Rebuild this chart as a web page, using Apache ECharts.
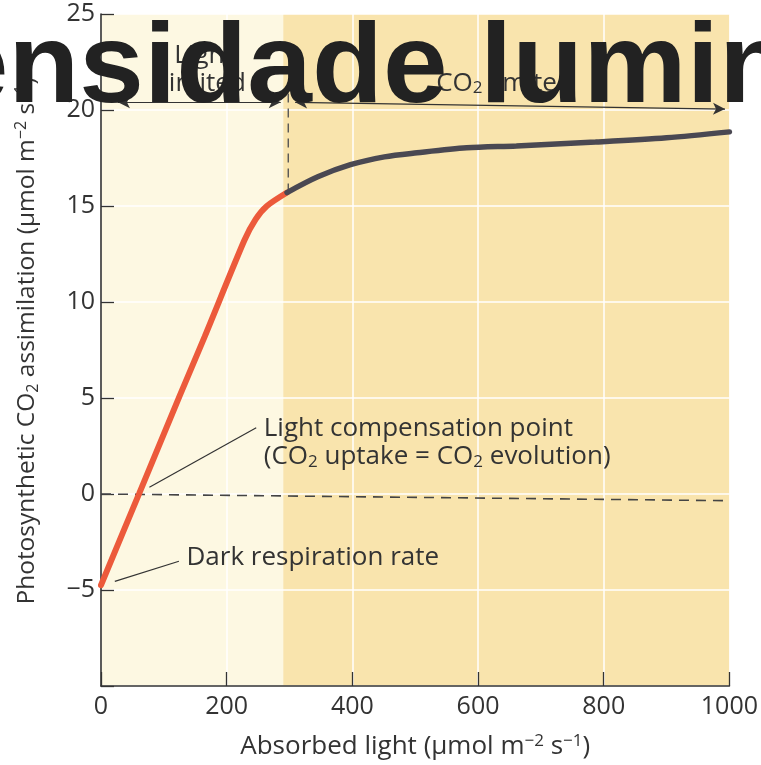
<!DOCTYPE html>
<html>
<head>
<meta charset="utf-8">
<script src="https://cdn.jsdelivr.net/npm/echarts@6/dist/echarts.min.js"></script>
<style>
html,body{margin:0;padding:0;background:#fff;}
#chart{width:761px;height:765px;}
</style>
</head>
<body>
<div id="chart"></div>
<script>
// ---- data ----
const lightLimitedX = [0, 61, 125, 165, 228, 246, 264, 296];
const lightLimitedY = [-4.75, 0.05, 5.1, 8.2, 13.2, 14.3, 15.0, 15.7];
const co2LimitedX = [296, 345, 397, 451, 503, 582, 661, 787, 900, 1000];
const co2LimitedY = [15.7, 16.52, 17.15, 17.56, 17.77, 18.03, 18.13, 18.33, 18.55, 18.86];
const zeroLineX = [0, 1000];
const zeroLineY = [0, -0.35];
const boundaryX = [298, 298];
const boundaryY = [15.7, 21.0];
const regionBreak = 290;
const xTicks = [0, 200, 400, 600, 800, 1000];
const yTicks = [-5, 0, 5, 10, 15, 20, 25];
const lightArrow = [[27, 20.4], [286, 20.4]];
const co2Arrow = [[309, 20.4], [993, 20.05]];
const compLeader = [[77, 0.35], [247, 3.45]];
const darkLeader = [[22, -4.55], [124, -3.5]];
const compLabelAt = [259, 2.66];
const darkLabelAt = [136, -3.3];
const lightLabelAt = [164, 22.1];
const co2LabelAt = [642, 21.4];
const titleText = 'Intensidade luminosa';

const pair = (xs, ys) => xs.map((x, i) => [x, ys[i]]);
const FONT = '"Open Sans", "Noto Sans", sans-serif';
const TXT = '#333';

const rich = {
  n: {fontSize: 26, fontFamily: FONT, color: TXT, lineHeight: 28},
  s: {fontSize: 17, fontFamily: FONT, color: TXT, lineHeight: 10, verticalAlign: 'bottom'},
  p: {fontSize: 17, fontFamily: FONT, color: TXT, lineHeight: 10, verticalAlign: 'top'}
};
const richY = {
  n: {fontSize: 24.5, fontFamily: FONT, color: TXT, lineHeight: 28},
  s: {fontSize: 16, fontFamily: FONT, color: TXT, lineHeight: 10, verticalAlign: 'bottom'},
  p: {fontSize: 16, fontFamily: FONT, color: TXT, lineHeight: 10, verticalAlign: 'top'}
};

const chart = echarts.init(document.getElementById('chart'), null, {renderer: 'canvas'});

const option = {
  animation: false,
  backgroundColor: '#ffffff',
  grid: {left: 101, right: 26, top: 14, bottom: 78, containLabel: false},
  xAxis: {
    type: 'value', min: 0, max: 1000, interval: 200, z: 2,
    name: '{n|Absorbed light (μmol m}{p|−2}{n| s}{p|−1}{n|)}',
    nameLocation: 'middle', nameGap: 47,
    nameTextStyle: {rich: rich},
    axisLine: {onZero: false, lineStyle: {color: '#333', width: 1.6}},
    axisTick: {inside: true, length: 14, lineStyle: {color: '#333', width: 1.3}},
    splitLine: {show: true, lineStyle: {color: 'rgba(255,255,255,0.75)', width: 2}},
    axisLabel: {fontSize: 25, color: TXT, fontFamily: FONT, margin: 8,
      formatter: v => xTicks.includes(v) ? String(v) : ''}
  },
  yAxis: {
    type: 'value', min: -10, max: 25, interval: 5, z: 2,
    name: '{n|Photosynthetic CO}{s|2}{n| assimilation (μmol m}{p|−2}{n| s}{p|−1}{n|)}',
    nameLocation: 'middle', nameGap: 60, nameRotate: 90,
    nameTextStyle: {rich: richY, padding: [0, 0, 0, 18]},
    axisLine: {onZero: false, lineStyle: {color: '#333', width: 1.6}},
    axisTick: {inside: true, length: 13, lineStyle: {color: '#333', width: 1.3}},
    splitLine: {show: true, lineStyle: {color: 'rgba(255,255,255,0.75)', width: 2}},
    axisLabel: {fontSize: 25, color: TXT, fontFamily: FONT, margin: 6,
      formatter: v => yTicks.includes(v) ? String(v).replace('-', '−') : ''}
  },
  series: [
    {
      name: 'bg', type: 'line', data: [], z: 1, silent: true,
      markArea: {
        silent: true,
        data: [
          [{xAxis: 0, yAxis: -10, itemStyle: {color: '#fdf8e2'}}, {xAxis: regionBreak, yAxis: 25}],
          [{xAxis: regionBreak, yAxis: -10, itemStyle: {color: '#f9e4ad'}}, {xAxis: 1000, yAxis: 25}]
        ]
      }
    },
    {
      name: 'zero', type: 'line', data: pair(zeroLineX, zeroLineY), z: 3, symbol: 'none', silent: true,
      lineStyle: {color: '#444', width: 1.6, type: [10, 7]}
    },
    {
      name: 'boundary', type: 'line', data: pair(boundaryX, boundaryY), z: 3, symbol: 'none', silent: true,
      lineStyle: {color: '#555', width: 1.4, type: [9, 6]}
    },
    {
      name: 'annot', type: 'line', data: [], z: 4, silent: true,
      markLine: {
        silent: true, symbol: ['none', 'none'], animation: false,
        label: {show: false},
        lineStyle: {color: '#333', width: 1.2, type: 'solid'},
        data: [
          [{coord: lightArrow[0], symbol: 'arrow', symbolSize: [9, 12]}, {coord: lightArrow[1], symbol: 'arrow', symbolSize: [9, 12]}],
          [{coord: co2Arrow[0], symbol: 'arrow', symbolSize: [9, 12]}, {coord: co2Arrow[1], symbol: 'arrow', symbolSize: [9, 12]}],
          [{coord: compLeader[0]}, {coord: compLeader[1]}],
          [{coord: darkLeader[0]}, {coord: darkLeader[1]}]
        ]
      },
      markPoint: {
        silent: true, symbol: 'circle', symbolSize: 0,
        label: {show: true, position: 'right', distance: 0, rich: rich, align: 'left'},
        data: [
          {coord: compLabelAt, label: {formatter: '{n|Light compensation point}\n{n|(CO}{s|2}{n| uptake = CO}{s|2}{n| evolution)}'}},
          {coord: darkLabelAt, label: {formatter: '{n|Dark respiration rate}'}},
          {coord: lightLabelAt, label: {position: 'inside', align: 'center', formatter: '{n|Light}\n{n|limited}'}},
          {coord: co2LabelAt, label: {position: 'inside', align: 'center', formatter: '{n|CO}{s|2}{n| limited}'}}
        ]
      }
    },
    {
      name: 'Light limited', type: 'line', data: pair(lightLimitedX, lightLimitedY), z: 5,
      smooth: 0.25, symbol: 'none',
      lineStyle: {color: '#ec5a3b', width: 6, cap: 'round'}
    },
    {
      name: 'CO2 limited', type: 'line', data: pair(co2LimitedX, co2LimitedY), z: 5,
      smooth: 0.3, symbol: 'none',
      lineStyle: {color: '#4a4852', width: 5.5, cap: 'round'}
    }
  ],
  graphic: [{
    type: 'text', z: 100, x: 396, y: 71, scaleX: 1.02,
    style: {text: titleText, font: 'bold 114px "Liberation Sans", Arial, sans-serif',
      fill: '#222222', align: 'center', verticalAlign: 'middle'}
  }]
};
chart.setOption(option);
</script>
</body>
</html>
